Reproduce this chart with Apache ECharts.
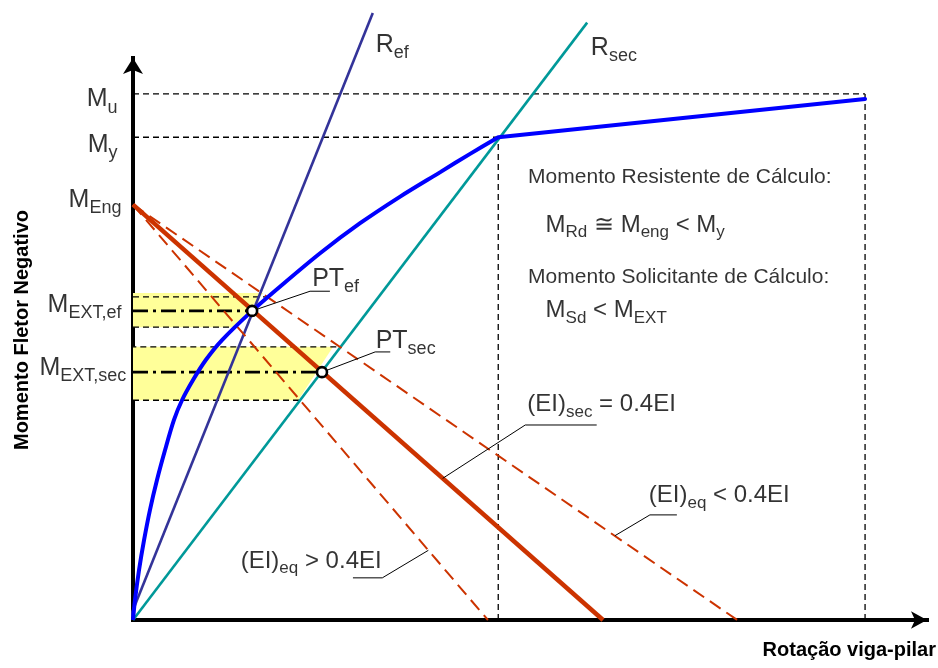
<!DOCTYPE html>
<html>
<head>
<meta charset="utf-8">
<script src="https://cdn.jsdelivr.net/npm/echarts@6/dist/echarts.min.js"></script>
<style>
  html, body { margin: 0; padding: 0; background: #ffffff; }
  #chart { width: 938px; height: 668px; }
</style>
</head>
<body>
<div id="chart"></div>
<script>
// Moment–rotation diagram of a beam-column connection (normalised units, 0–100)

// Moment levels on the vertical axis
const levelNames = ['Mu', 'My', 'MEng', 'MEXT,ef', 'MEXT,sec'];
const levelValues = [93.6, 85.9, 73.9, 55.0, 44.1];

// Rotations at yield and at ultimate moment
const rotationYield = 46.0;
const rotationUltimate = 92.2;

// Non-linear moment–rotation curve up to yield
const curveRotation = [0, 0.25, 0.76, 1.39, 2.14, 3.02, 4.03, 5.16, 6.17, 7.56, 9.19, 11.21, 15.0, 18.5, 23.6, 28.6, 33.6, 38.7, 42.4, 46.0];
const curveMoment   = [0, 3.56, 8.9, 14.2, 19.6, 24.9, 30.2, 35.6, 39.1, 42.7, 46.3, 49.8, 55.0, 59.3, 65.3, 70.6, 75.3, 79.7, 82.9, 85.9];

// Post-yield hardening branch
const hardeningRotation = [46.0, 92.2];
const hardeningMoment   = [85.9, 92.7];

// Effective and secant stiffness lines
const rEfRotation  = [-0.5, 30.2];
const rEfMoment    = [0, 108.0];
const rSecRotation = [0, 57.2];
const rSecMoment   = [0, 106.3];

// Beam lines from the fixed-end moment: rotation where each one reaches zero moment
const beamLineNames = ['(EI)sec = 0.4EI', '(EI)eq > 0.4EI', '(EI)eq < 0.4EI'];
const beamLineZeroRotation = [59.2, 44.7, 76.1];

// Intersection points PTef and PTsec
const ptRotation = [15.0, 23.8];
const ptMoment   = [55.0, 44.1];

// Shaded tolerance bands around each M_EXT
const bandTop         = [58.2, 48.6];
const bandBottom      = [52.1, 39.1];
const bandRightTop    = [16.4, 25.2];
const bandRightBottom = [12.8, 20.8];

// Dashed limits of the bands
const bandLineLevel = [57.5, 52.1, 48.6, 39.1];
const bandLineFrom  = [0, 0, -1.6, 0];
const bandLineTo    = [16.9, 13.2, 25.7, 21.0];

// Text annotations
const labelTexts = [
  '{m|M}{s|u}', '{m|M}{s|y}', '{m|M}{s|Eng}', '{m|M}{s|EXT,ef}', '{m|M}{s|EXT,sec}',
  '{m|R}{s|ef}', '{m|R}{s|sec}', '{m|PT}{s|ef}', '{m|PT}{s|sec}',
  '{e|(EI)}{t|sec}{e| = 0.4EI}', '{e|(EI)}{t|eq}{e| < 0.4EI}', '{e|(EI)}{t|eq}{e| > 0.4EI}',
  '{p|Momento Resistente de Cálculo:}', '{e|M}{t|Rd}{e| ≅ M}{t|eng}{e| < M}{t|y}',
  '{p|Momento Solicitante de Cálculo:}', '{e|M}{t|Sd}{e| < M}{t|EXT}'
];
const labelX = [-1.89, -1.89, -1.39, -1.39, -0.79, 30.5, 57.6, 22.5, 30.5, 49.6, 64.9, 13.5, 49.7, 51.9, 49.7, 51.9];
const labelY = [92.6, 84.5, 74.8, 56.0, 44.75, 102.3, 101.7, 60.7, 49.6, 38.3, 22.1, 10.5, 78.8, 70.3, 61.0, 55.1];
const labelAlign = ['right', 'right', 'right', 'right', 'right', 'left', 'left', 'left', 'left', 'left', 'left', 'left', 'left', 'left', 'left', 'left'];

// Leader lines from labels to the marks they describe
const leaderLines = [
  [[15.0, 55.0], [22.3, 58.5], [24.8, 58.5]],
  [[23.8, 44.1], [30.5, 47.7], [32.4, 47.7]],
  [[39.0, 25.2], [49.4, 34.7], [58.4, 34.7]],
  [[60.7, 15.0], [65.1, 18.7], [68.5, 18.7]],
  [[37.2, 12.4], [31.4, 7.5], [27.7, 7.5]]
];

const FONT = "'Liberation Sans', Arial, sans-serif";
const RED = '#CC3300';

const pairs = (xs, ys) => xs.map((x, i) => [x, ys[i]]);

function line(data, lineStyle, z, smooth) {
  return {
    type: 'line', data: data, symbol: 'none', clip: false, silent: true,
    smooth: smooth || false, lineStyle: lineStyle, z: z, animation: false
  };
}

const mU = levelValues[0], mY = levelValues[1], mEng = levelValues[2];
const series = [];

// yellow bands
series.push({
  type: 'custom', z: 1, silent: true, clip: false, animation: false,
  data: bandTop.map((t, i) => [t, bandBottom[i], bandRightTop[i], bandRightBottom[i]]),
  renderItem: function (params, api) {
    const top = api.value(0), bot = api.value(1);
    const pts = [api.coord([0, top]), api.coord([api.value(2), top]),
                 api.coord([api.value(3), bot]), api.coord([0, bot])];
    return { type: 'polygon', shape: { points: pts }, style: { fill: '#FFFF99' } };
  }
});

const refDash = { color: '#000', width: 1.3, type: [6, 4] };
// reference lines to Mu and My
series.push(line([[0, mU], [rotationUltimate, mU]], refDash, 2));
series.push(line([[rotationUltimate, 0], [rotationUltimate, mU]], refDash, 2));
series.push(line([[0, mY], [rotationYield, mY]], refDash, 2));
series.push(line([[rotationYield, 0], [rotationYield, mY]], refDash, 2));

// band limit lines
bandLineLevel.forEach((lv, i) => {
  series.push(line([[bandLineFrom[i], lv], [bandLineTo[i], lv]], refDash, 2));
});

// dash-dot lines at M_EXT
ptRotation.forEach((r, i) => {
  series.push(line([[0, ptMoment[i]], [r, ptMoment[i]]], { color: '#000', width: 2.6, type: [15, 5, 3, 5] }, 3));
});

// stiffness lines
series.push(line(pairs(rSecRotation, rSecMoment), { color: '#009999', width: 2.6 }, 4));
series.push(line(pairs(rEfRotation, rEfMoment), { color: '#333399', width: 2.6 }, 4));

// beam lines
series.push(line([[0, mEng], [beamLineZeroRotation[1], 0]], { color: RED, width: 2, type: [13, 7] }, 5));
series.push(line([[0, mEng], [beamLineZeroRotation[2], 0]], { color: RED, width: 2, type: [13, 7] }, 5));

// moment-rotation curve
series.push(line(pairs(curveRotation, curveMoment), { color: '#0000FF', width: 4 }, 6, 0.3));
series.push(line(pairs(hardeningRotation, hardeningMoment), { color: '#0000FF', width: 4, cap: 'round' }, 6));

series.push(line([[0, mEng], [beamLineZeroRotation[0], 0]], { color: RED, width: 4.5 }, 7));

// leaders
leaderLines.forEach(pts => series.push(line(pts, { color: '#000', width: 1 }, 8)));

// PT points
series.push({
  type: 'scatter', data: pairs(ptRotation, ptMoment), symbol: 'circle', symbolSize: 10,
  itemStyle: { color: '#fff', borderColor: '#000', borderWidth: 2.6, opacity: 1 },
  z: 10, silent: true, animation: false
});

// labels
series.push({
  type: 'scatter', symbol: 'circle', symbolSize: 1, clip: false, silent: true, animation: false, z: 12,
  itemStyle: { color: 'rgba(0,0,0,0)' },
  data: labelTexts.map((t, i) => ({
    value: [labelX[i], labelY[i]],
    label: {
      show: true, formatter: t, distance: 0,
      position: labelAlign[i] === 'right' ? 'left' : 'right'
    }
  })),
  label: {
    color: '#000', fontFamily: FONT,
    rich: {
      m: { fontSize: 25, lineHeight: 34, fontFamily: FONT, color: '#000' },
      s: { fontSize: 18, lineHeight: 18, verticalAlign: 'bottom', fontFamily: FONT, color: '#000' },
      e: { fontSize: 24, lineHeight: 32, fontFamily: FONT, color: '#000' },
      t: { fontSize: 17, lineHeight: 17, verticalAlign: 'bottom', fontFamily: FONT, color: '#000' },
      p: { fontSize: 21, lineHeight: 26, fontFamily: FONT, color: '#000' }
    }
  }
});

const axisCommon = {
  type: 'value', min: 0, max: 100,
  axisTick: { show: false }, axisLabel: { show: false }, splitLine: { show: false }
};

const chart = echarts.init(document.getElementById('chart'), null, { renderer: 'canvas' });
chart.setOption({
  animation: false,
  backgroundColor: '#ffffff',
  grid: { left: 133, right: 11, top: 58, bottom: 48, containLabel: false, outerBoundsMode: 'none' },
  xAxis: Object.assign({}, axisCommon, {
    axisLine: { show: true, onZero: false, symbol: ['none', 'arrow'], symbolSize: [13, 16],
                lineStyle: { color: '#000', width: 4, cap: 'square' } }
  }),
  yAxis: Object.assign({}, axisCommon, {
    axisLine: { show: true, onZero: false, symbol: ['none', 'arrow'], symbolSize: [15, 16],
                lineStyle: { color: '#000', width: 4, cap: 'square' } }
  }),
  graphic: [
    { type: 'text', x: 22, y: 330, rotation: Math.PI / 2,
      style: { text: 'Momento Fletor Negativo', font: 'bold 20px ' + FONT, fill: '#000',
               align: 'center', verticalAlign: 'middle' } },
    { type: 'text', x: 936, y: 650,
      style: { text: 'Rotação viga-pilar', font: 'bold 20px ' + FONT, fill: '#000',
               align: 'right', verticalAlign: 'middle' } }
  ],
  series: series
});
</script>
</body>
</html>
